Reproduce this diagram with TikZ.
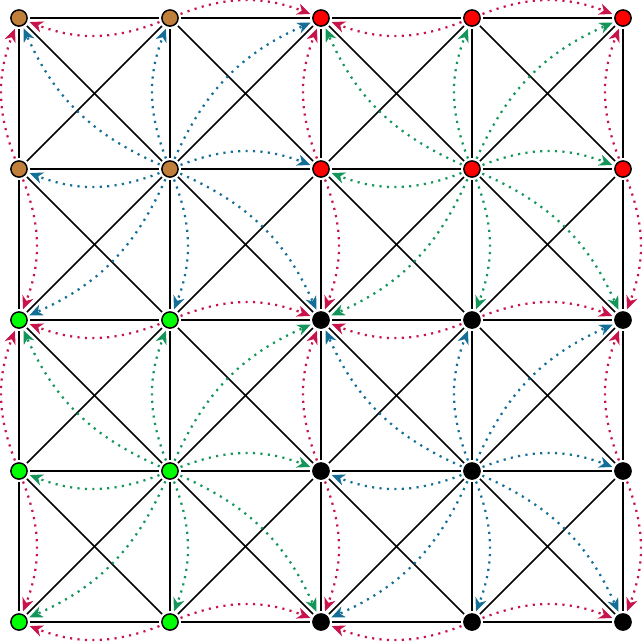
\documentclass[tikz,border=0pt]{standalone}
\usepackage{xcolor}
\usepackage{tikz}
\usetikzlibrary{arrows.meta,calc}
\definecolor{dblue}{HTML}{146E96}
\definecolor{dgreen}{HTML}{14965A}
\definecolor{dred}{HTML}{C8144B}
\definecolor{vbrown}{HTML}{C0803C}
\definecolor{vred}{HTML}{FF0000}
\definecolor{vgreen}{HTML}{00FF00}

\begin{document}
\begin{tikzpicture}[x=1cm,y=1cm,
    vert/.style={circle, draw=black, line width=1.1pt, minimum size=0.43cm,
                 inner sep=0pt, outer sep=2.4pt},
    aresta/.style={black, line width=1.1pt},
    seta/.style={line width=1.7pt, dash pattern=on 1.6pt off 4pt,
                 -{Stealth[length=10pt,width=8.5pt,inset=3pt]}}]

  \def\s{4}   % passo da grade

  \useasboundingbox (-0.503,0.477) rectangle (16.50,-16.556);

  % ----- vértices -----
  \foreach \i in {0,...,4}
    \foreach \j in {0,...,4}{
      \ifnum\i<2
        \ifnum\j<2 \def\cor{vbrown}\else\def\cor{vgreen}\fi
      \else
        \ifnum\j<2 \def\cor{vred}\else\def\cor{black}\fi
      \fi
      \node[vert, fill=\cor] (n-\i-\j) at (\i*\s,-\j*\s) {};
    }

  % ----- arestas da grade -----
  \foreach \i in {0,...,4}
    \foreach \j in {0,...,3}{
      \pgfmathtruncatemacro\jj{\j+1}
      \draw[aresta] (n-\i-\j) -- (n-\i-\jj);
      \draw[aresta] (n-\j-\i) -- (n-\jj-\i);
    }

  % ----- diagonais -----
  \foreach \i in {0,...,3}
    \foreach \j in {0,...,3}{
      \pgfmathtruncatemacro\ii{\i+1}
      \pgfmathtruncatemacro\jj{\j+1}
      \draw[aresta] (n-\i-\j) -- (n-\ii-\jj);
      \draw[aresta] (n-\ii-\j) -- (n-\i-\jj);
    }

  % ----- setas a partir dos centros -----
  \foreach \cx/\cy/\cor in {1/1/dblue, 3/1/dgreen, 1/3/dgreen, 3/3/dblue}
    \foreach \dx/\dy in {-1/-1,0/-1,1/-1,-1/0,1/0,-1/1,0/1,1/1}{
      \pgfmathtruncatemacro\tx{\cx+\dx}
      \pgfmathtruncatemacro\ty{\cy+\dy}
      \draw[seta, \cor] (n-\cx-\cy) to[bend left=21] (n-\tx-\ty);
    }

  % ----- setas nas bordas -----
  \foreach \a in {1,3}
    \foreach \b in {0,2,4}{
      \pgfmathtruncatemacro\am{\a-1}
      \pgfmathtruncatemacro\ap{\a+1}
      \draw[seta, dred] (n-\a-\b) to[bend left=21] (n-\am-\b);
      \draw[seta, dred] (n-\a-\b) to[bend left=21] (n-\ap-\b);
      \draw[seta, dred] (n-\b-\a) to[bend left=21] (n-\b-\am);
      \draw[seta, dred] (n-\b-\a) to[bend left=21] (n-\b-\ap);
    }

\end{tikzpicture}
\end{document}
